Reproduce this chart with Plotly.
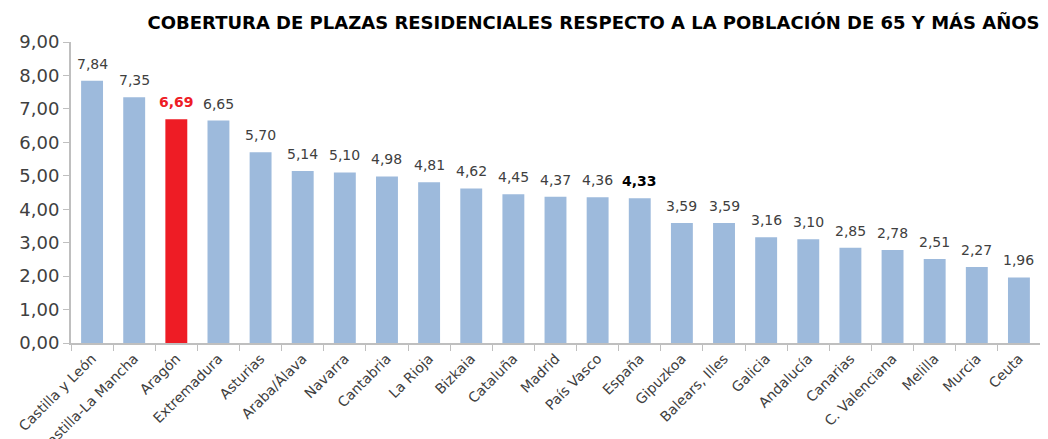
import plotly.graph_objects as go

regiones = ["Castilla y León", "Castilla-La Mancha", "Aragón", "Extremadura", "Asturias",
            "Araba/Álava", "Navarra", "Cantabria", "La Rioja", "Bizkaia", "Cataluña",
            "Madrid", "País Vasco", "España", "Gipuzkoa", "Balears, Illes", "Galicia",
            "Andalucía", "Canarias", "C. Valenciana", "Melilla", "Murcia", "Ceuta"]
cobertura = [7.84, 7.35, 6.69, 6.65, 5.70, 5.14, 5.10, 4.98, 4.81, 4.62, 4.45,
             4.37, 4.36, 4.33, 3.59, 3.59, 3.16, 3.10, 2.85, 2.78, 2.51, 2.27, 1.96]

AZUL = "#9DBADC"
ROJO = "#EE1C25"
FUENTE = "DejaVu Sans, sans-serif"

colores = []
etiquetas = []
colores_txt = []
for r, v in zip(regiones, cobertura):
    s = "{:.2f}".format(v).replace(".", ",")
    if r == "Aragón":
        colores.append(ROJO)
        etiquetas.append("<b>" + s + "</b>")
        colores_txt.append(ROJO)
    elif r == "España":
        colores.append(AZUL)
        etiquetas.append("<b>" + s + "</b>")
        colores_txt.append("#000000")
    else:
        colores.append(AZUL)
        etiquetas.append(s)
        colores_txt.append("#404040")

fig = go.Figure()
fig.add_trace(go.Bar(
    x=regiones, y=cobertura,
    marker=dict(color=colores, line=dict(width=0)),
    cliponaxis=False,
))

# etiquetas de valor algo separadas de la barra
for r, v, t, c in zip(regiones, cobertura, etiquetas, colores_txt):
    fig.add_annotation(
        x=r, y=v, text=t, showarrow=False,
        yanchor="bottom", yshift=7,
        font=dict(family=FUENTE, size=14, color=c),
    )

# la página tiene 8px de margen en el body: se descuentan aquí
fig.update_layout(
    width=1040, height=431,
    margin=dict(l=63, r=8, t=34, b=96),
    paper_bgcolor="white", plot_bgcolor="white",
    separators=",.",
    bargap=0.48,
    showlegend=False,
    font=dict(family=FUENTE, color="#404040"),
    title=dict(
        text="<b>COBERTURA DE PLAZAS RESIDENCIALES RESPECTO A LA POBLACIÓN DE 65 Y MÁS AÑOS</b>",
        x=0.563, xanchor="center", y=0.967, yanchor="middle",
        font=dict(family=FUENTE, size=18, color="#000000"),
    ),
    xaxis=dict(
        automargin=False,
        tickangle=-45,
        tickfont=dict(size=14, color="#404040"),
        showline=True, linecolor="#BFBFBF", linewidth=2,
        ticks="outside", tickson="boundaries", ticklen=6, tickcolor="#BFBFBF",
        showgrid=False,
    ),
    yaxis=dict(
        automargin=False,
        range=[0, 9], dtick=1, tickformat=".2f",
        tickfont=dict(size=18, color="#404040"),
        showline=True, linecolor="#BFBFBF", linewidth=2,
        ticks="outside", ticklen=6, tickcolor="#BFBFBF",
        showgrid=False, zeroline=False,
    ),
)

fig.write_html("out.html")
